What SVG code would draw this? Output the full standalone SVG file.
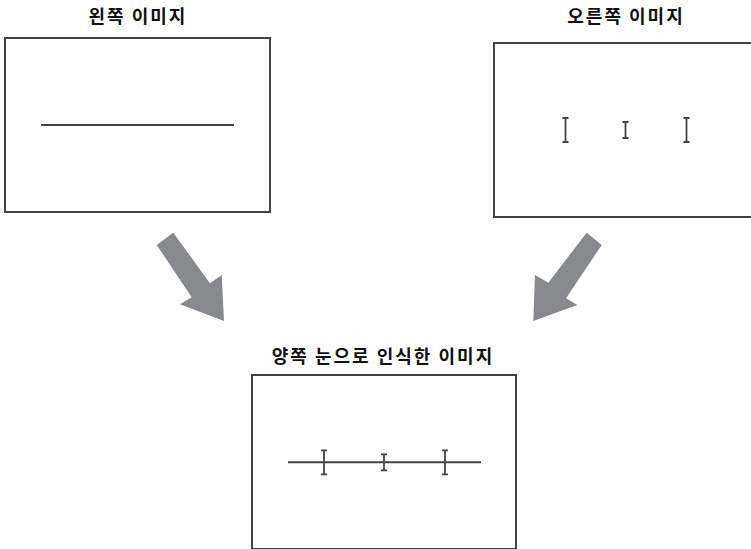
<svg xmlns="http://www.w3.org/2000/svg" width="751" height="549" viewBox="0 0 751 549">
<style>
.frame{fill:#fff;stroke:#444;stroke-width:2}
.ln{stroke:#444;stroke-width:2;fill:none}
.ib{stroke:#444;stroke-width:1.8;fill:none}
.title{font-family:"Noto Sans CJK KR","Noto Sans",sans-serif;font-weight:bold;font-size:18px;letter-spacing:2px;fill:#111;text-anchor:middle}
.arrow{fill:#88898c}
</style>
<defs>
<path id="ibL" d="M0,-12V12M-3,-12H3M-3,12H3" class="ib"/>
<path id="ibS" d="M0,-8V8M-3,-8H3M-3,8H3" class="ib"/>
</defs>
<rect width="751" height="549" fill="#fff"/>
<g id="left-image">
<text class="title" x="138" y="23">왼쪽 이미지</text>
<rect class="frame" x="5" y="38" width="265" height="174"/>
<line class="ln" x1="41" y1="125" x2="234" y2="125"/>
</g>
<g id="right-image">
<text class="title" x="626" y="23">오른쪽 이미지</text>
<rect class="frame" x="494" y="43" width="270" height="174"/>
<use href="#ibL" x="565.5" y="130"/>
<use href="#ibS" x="625.5" y="130"/>
<use href="#ibL" x="686.5" y="130"/>
</g>
<g id="combined-image">
<text class="title" x="383" y="363">양쪽 눈으로 인식한 이미지</text>
<rect class="frame" x="252" y="375" width="264" height="174"/>
<line class="ln" x1="288" y1="462.3" x2="481" y2="462.3"/>
<use href="#ibL" x="324" y="462.3"/>
<use href="#ibS" x="384" y="462.3"/>
<use href="#ibL" x="445" y="462.3"/>
</g>
<g id="connectors">
<polygon class="arrow" points="156.7,245 173.3,232.7 210,283.3 221.7,275 224,321 180,304.3 191.7,297.3"/>
<polygon class="arrow" points="601.7,245 586.7,232.7 548.3,282.7 535,275 533.3,321 577.3,305 566,298.3"/>
</g>
</svg>
